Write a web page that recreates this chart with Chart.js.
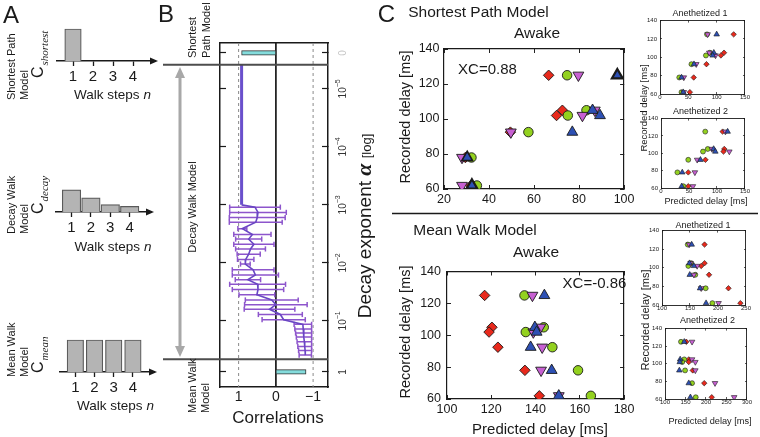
<!DOCTYPE html>
<html>
<head>
<meta charset="utf-8">
<script src="https://cdn.jsdelivr.net/npm/chart.js@4.4.1/dist/chart.umd.min.js"></script>
<style>
html, body { margin: 0; padding: 0; background: #fff; }
#stage { position: relative; width: 760px; height: 437px; overflow: hidden; background: #fff;
         font-family: 'Liberation Sans', Arial, sans-serif; color: #1a1a1a; }
#stage canvas { position: absolute; }
.lbl { position: absolute; white-space: nowrap; line-height: 1; }
.sub { font: italic 11px 'Liberation Serif', serif; vertical-align: -5px; margin-left: 1px; }
#deco { position: absolute; left: 0; top: 0; }
</style>
</head>
<body>
<div id="stage"></div>
<script>
// ---- panel A: step weights of the three walk models
const walkSteps = [1, 2, 3, 4];
const cShortest = [1, 0, 0, 0];
const cDecay = [0.69, 0.44, 0.23, 0.175];
const cMean = [1, 1, 1, 1];

// ---- panel B: correlation vs log10(decay exponent)
const bTickPos = [-5.62, -5, -4, -3, -2, -1, -0.12];
const bTickBase = ['0', '10', '10', '10', '10', '10', '1'];
const bTickExp = ['', '\u22125', '\u22124', '\u22123', '\u22122', '\u22121', ''];
const corrTicks = [1, 0, -1];
const plateauAlpha = [-5.42, -3.0];
const plateauCorr = [0.92, 0.92];
const decayAlpha = [-2.96, -2.87, -2.78, -2.70, -2.59, -2.49, -2.41, -2.32, -2.24, -2.15, -2.06,
  -1.98, -1.88, -1.79, -1.71, -1.63, -1.54, -1.45, -1.36, -1.28, -1.20, -1.11, -1.02,
  -0.94, -0.86, -0.79, -0.72, -0.64, -0.56, -0.49, -0.41];
const decayMean = [0.56, 0.48, 0.50, 0.54, 0.90, 0.63, 0.73, 0.59, 0.68, 0.73, 0.81,
  0.82, 0.61, 0.55, 0.75, 0.49, 0.48, 0.51, 0.11, 0.00, 0.17, -0.12, -0.21,
  -0.725, -0.735, -0.745, -0.755, -0.765, -0.775, -0.785, -0.79];
const decayErr = [0.68, 0.76, 0.75, 0.71, 0.12, 0.50, 0.35, 0.54, 0.40, 0.31, 0.22,
  0.13, 0.56, 0.62, 0.34, 0.75, 0.69, 0.48, 0.71, 0.84, 0.68, 0.59, 0.58,
  0.235, 0.225, 0.215, 0.205, 0.195, 0.185, 0.175, 0.165];
const modelAlpha = [-5.62, -0.12];   // shortest path row (alpha 0) and mean walk row (alpha 1)
const modelCorr = [0.92, -0.81];

// ---- panel C: recorded vs predicted delays (ms), one entry per recorded delay
const recordedDelay = [125, 105, 102, 92.5, 78, 62];
const spAwakeRed = [66.5, 72.6, 70, 49.5, 29.5, 32];
const spAwakeGreen = [74.7, 83.3, 75, 57.5, 32.2, 34.6];
const spAwakePurple = [79.7, 87, 81.5, 49.7, 28, 28];
const spAwakeBlue = [97, 86, 89.3, 77, 30.3, 32.4];
const spAn1Red = [130, 113, 107.5, 82, 59.5, 52.7];
const spAn1Green = [83, 88, 81, 55.5, 34, 38];
const spAn1Purple = [84, 87, 98, 64, 42, 42];
const spAn1Blue = [100, 95, 93, 60, 38, 41];
const spAn2Red = [110, 113, 111.6, 79.4, 48.7, 48.7];
const spAn2Green = [79, 83.5, 75, 48.7, 29.3, 40];
const spAn2Purple = [115, 91, 122, 64.6, 60.5, 57];
const spAn2Blue = [119, 94, 97, 70.5, 38, 37];
const mwAwakeRed = [117, 120.3, 119, 123, 135.2, 141.7];
const mwAwakeGreen = [135, 143.7, 135.6, 147.6, 159.2, 165];
const mwAwakePurple = [138.6, 142.2, 139, 143, 142.5, 150.5];
const mwAwakeBlue = [144, 139.7, 140.5, 137.8, 147.3, 150.5];
const mwAn1Red = [176, 176, 170, 184, 218.7, 240];
const mwAn1Green = [146, 152, 147, 159.5, 178, 190];
const mwAn1Purple = [148.5, 151, 162.7, 157, 170, 201];
const mwAn1Blue = [153, 149, 157, 149.6, 168, 178.7];
const mwAn2Red = [152, 158, 158, 167.7, 195.7, 214];
const mwAn2Green = [139, 147, 142, 149, 166, 175];
const mwAn2Purple = [166, 166, 174, 174, 222, 268.7];
const mwAn2Blue = [147, 137, 136, 135, 158, 162];

Chart.defaults.font.family = "'Liberation Sans', Arial, sans-serif";
Chart.defaults.color = '#1a1a1a';
Chart.defaults.animation = false;
Chart.defaults.events = [];
Chart.defaults.plugins.legend.display = false;
Chart.defaults.plugins.tooltip.enabled = false;

const stage = document.getElementById('stage');
const INK = '#1a1a1a';

// canvas placed so that the chart area lands on `area` [l, t, r, b]; m = margins [l, t, r, b]
function makeCanvas(area, m) {
    const c = document.createElement('canvas');
    const w = Math.round(area[2] - area[0] + m[0] + m[2]);
    const h = Math.round(area[3] - area[1] + m[1] + m[3]);
    c.width = w;
    c.height = h;
    c.style.left = (area[0] - m[0]) + 'px';
    c.style.top = (area[1] - m[1]) + 'px';
    c.style.width = w + 'px';
    c.style.height = h + 'px';
    stage.appendChild(c);
    return c;
}

function label(html, x, y, size, rotate, extra) {
    const d = document.createElement('div');
    d.className = 'lbl';
    d.innerHTML = html;
    d.style.left = x + 'px';
    d.style.top = y + 'px';
    d.style.fontSize = size + 'px';
    d.style.transform = 'translate(-50%, -50%)' + (rotate ? ' rotate(-90deg)' : '');
    if (extra) d.style.cssText += extra;
    stage.appendChild(d);
}

// rotated text that starts at (x, yBottom) and reads upwards
function vlabel(html, x, yBottom, size) {
    const d = document.createElement('div');
    d.className = 'lbl';
    d.innerHTML = html;
    d.style.left = x + 'px';
    d.style.top = yBottom + 'px';
    d.style.fontSize = size + 'px';
    d.style.transformOrigin = '0 0';
    d.style.transform = 'rotate(-90deg)';
    stage.appendChild(d);
}

// ---------- panel A ----------
const axisArrow = {
    id: 'axisArrow',
    afterDraw(chart) {
        const a = chart.chartArea, ctx = chart.ctx;
        ctx.save();
        ctx.fillStyle = INK;
        ctx.beginPath();
        ctx.moveTo(a.right + 3, a.bottom);
        ctx.lineTo(a.right - 5, a.bottom - 3.5);
        ctx.lineTo(a.right - 5, a.bottom + 3.5);
        ctx.closePath();
        ctx.fill();
        ctx.restore();
    }
};

function walkChart(area, values, barWidth) {
    const m = [6, 2, 8, 26];
    new Chart(makeCanvas(area, m), {
        type: 'bar',
        data: {
            datasets: [{
                data: walkSteps.map((s, i) => ({ x: s, y: values[i] })),
                backgroundColor: '#b4b4b4',
                borderColor: '#5a5a5a',
                borderWidth: 1.2,
                barThickness: barWidth
            }]
        },
        options: {
            responsive: false,
            layout: { padding: { left: m[0], top: m[1], right: m[2], bottom: 0 }, autoPadding: false },
            scales: {
                x: {
                    type: 'linear', offset: false, min: 0.2, max: 5.1,
                    afterBuildTicks: s => { s.ticks = walkSteps.map(v => ({ value: v })); },
                    ticks: { font: { size: 15 }, color: INK, padding: 2, autoSkip: false, maxRotation: 0 },
                    grid: { offset: false, drawOnChartArea: false, tickLength: 5, tickColor: INK, tickWidth: 1.3 },
                    border: { color: INK, width: 1.5 },
                    afterFit: s => { s.height = m[3]; }
                },
                y: { display: false, min: 0, max: 1.25 }
            }
        },
        plugins: [axisArrow]
    });
}

walkChart([57, 21, 155, 61], cShortest, 16.5);
walkChart([56, 172, 151, 212], cDecay, 18.5);
walkChart([60, 332, 154, 372], cMean, 16.5);

// ---------- panel B ----------
const bYMin = -5.79, bYMax = 0.14;

const decayLabels = {
    id: 'decayLabels',
    afterDraw(chart) {
        const ctx = chart.ctx, s = chart.scales.y2, x0 = chart.chartArea.right + 15;
        const fam = "'Liberation Sans', Arial, sans-serif";
        bTickPos.forEach((v, i) => {
            const y = s.getPixelForValue(v);
            ctx.save();
            ctx.translate(x0, y);
            ctx.rotate(-Math.PI / 2);
            ctx.textBaseline = 'middle';
            ctx.textAlign = 'left';
            ctx.fillStyle = i === 0 ? '#c6c6c6' : '#333';
            ctx.font = '10px ' + fam;
            const wb = ctx.measureText(bTickBase[i]).width;
            ctx.font = '7px ' + fam;
            const we = bTickExp[i] ? ctx.measureText(bTickExp[i]).width : 0;
            const start = -(wb + we) / 2;
            ctx.font = '10px ' + fam;
            ctx.fillText(bTickBase[i], start, 0);
            if (bTickExp[i]) {
                ctx.font = '7px ' + fam;
                ctx.fillText(bTickExp[i], start + wb, -5);
            }
            ctx.restore();
        });
    }
};

const errPts = [];
decayAlpha.forEach((a, i) => {
    errPts.push({ x: decayMean[i] - decayErr[i], y: a }, { x: decayMean[i] + decayErr[i], y: a }, { x: null, y: null });
});
const dashPts = [];
corrTicks.filter(v => v !== 0).forEach(v => {
    dashPts.push({ x: v, y: bYMin }, { x: v, y: bYMax }, { x: null, y: null });
});

function bAxis(pos, size, extra) {
    return Object.assign({
        position: pos,
        afterFit: s => { if (s.isHorizontal()) s.height = size; else s.width = size; },
        border: { color: INK, width: 1.5 }
    }, extra);
}
const bYAxis = {
    reverse: true, min: bYMin, max: bYMax,
    afterBuildTicks: s => { s.ticks = bTickPos.map(v => ({ value: v })); },
    ticks: { display: false },
    grid: { drawOnChartArea: false, tickLength: -6, tickColor: INK, tickWidth: 1.2 }
};
const bM = [8, 5, 34, 20];
new Chart(makeCanvas([220, 43, 328, 387], bM), {
    type: 'scatter',
    data: {
        datasets: [
            { data: plateauAlpha.map((a, i) => ({ x: plateauCorr[i], y: a })), showLine: true,
              borderColor: '#6a50cc', borderWidth: 3, pointRadius: 0, order: 0 },
            { data: [{ x: plateauCorr[1], y: plateauAlpha[1] }].concat(decayAlpha.map((a, i) => ({ x: decayMean[i], y: a }))),
              showLine: true, borderColor: '#6a46c4', borderWidth: 1.6, pointRadius: 0, order: 0 },
            { data: errPts, showLine: true, spanGaps: false, borderColor: '#8d55cc', borderWidth: 1.5,
              pointStyle: 'line', pointRotation: 90, pointRadius: 2.6,
              pointBorderColor: '#8d55cc', pointBorderWidth: 1.5, order: 1 },
            { type: 'bar', indexAxis: 'y', grouped: false,
              data: modelAlpha.map((a, i) => ({ x: [0, modelCorr[i]], y: a })),
              backgroundColor: '#84dcdc', borderColor: '#333', borderWidth: 1, borderSkipped: false,
              barThickness: 4.5, order: 2 },
            { data: [{ x: 0, y: bYMin }, { x: 0, y: bYMax }], showLine: true,
              borderColor: INK, borderWidth: 1, pointRadius: 0, order: 6 },
            { data: dashPts, showLine: true, spanGaps: false, borderColor: '#8a8a8a', borderWidth: 1,
              borderDash: [3, 3], pointRadius: 0, order: 6 }
        ]
    },
    options: {
        responsive: false,
        layout: { padding: 0, autoPadding: false },
        scales: {
            x: bAxis('bottom', bM[3], {
                type: 'linear', offset: false, reverse: true, min: -1.4, max: 1.5,
                afterBuildTicks: s => { s.ticks = corrTicks.map(v => ({ value: v })); },
                ticks: { font: { size: 14 }, color: INK, padding: 1.3, autoSkip: false, maxRotation: 0,
                         callback: v => v < 0 ? '\u2212' + (-v) : String(v) },
                grid: { display: false, drawTicks: false, tickLength: 0, offset: false }
            }),
            x2: bAxis('top', bM[1], {
                axis: 'x', type: 'linear', reverse: true, min: -1.4, max: 1.5,
                ticks: { display: false }, grid: { display: false, drawTicks: false, tickLength: 0 }
            }),
            y: bAxis('left', bM[0], Object.assign({ type: 'linear', offset: false }, bYAxis, { grid: Object.assign({ offset: false }, bYAxis.grid) })),
            y2: bAxis('right', bM[2], Object.assign({ axis: 'y', type: 'linear' }, bYAxis))
        }
    },
    plugins: [decayLabels]
});

// ---------- panel C ----------
const markerLook = [
    { color: '#e8291c', style: 'rectRot', rot: 0, k: 1.05 },
    { color: '#93d11f', style: 'circle', rot: 0, k: 0.95 },
    { color: '#c760d2', style: 'triangle', rot: 180, k: 1.25 },
    { color: '#2d50b4', style: 'triangle', rot: 0, k: 1.25 }
];

function scatterPanel(area, m, xr, yr, series, o) {
    const axis = (pos, r, show, size, pad) => ({
        axis: (pos === 'top' || pos === 'bottom') ? 'x' : 'y',
        position: pos, min: r[0], max: r[1],
        ticks: { stepSize: r[2], display: show, autoSkip: false, maxRotation: 0,
                 font: { size: o.font }, color: INK, padding: pad || 0 },
        grid: { drawOnChartArea: false, tickLength: -o.tick, tickColor: INK, tickWidth: o.bw * 0.8 },
        border: { color: INK, width: o.bw },
        afterFit: s => { if (s.isHorizontal()) s.height = size; else s.width = size; }
    });
    new Chart(makeCanvas(area, m), {
        type: 'scatter',
        data: {
            datasets: series.map((xs, k) => ({
                data: xs.map((x, i) => ({ x: x, y: recordedDelay[i] })),
                pointStyle: markerLook[k].style,
                pointRotation: markerLook[k].rot,
                pointRadius: o.r * markerLook[k].k,
                pointBackgroundColor: markerLook[k].color,
                pointBorderColor: INK,
                pointBorderWidth: (o.borders && o.borders[k]) || o.pbw,
                order: 3 - k
            }))
        },
        options: {
            responsive: false,
            layout: { padding: 0, autoPadding: false },
            scales: {
                x: axis('bottom', xr, true, m[3], o.padX),
                x2: axis('top', xr, false, m[1]),
                y: axis('left', yr, true, m[0], o.padY),
                y2: axis('right', yr, false, m[2])
            }
        }
    });
}

const mainLook = { font: 12.5, tick: 4, bw: 1.2, r: 5, pbw: 0.9, padX: 7.5, padY: 8.5 };
const insetLook = { font: 6, tick: 2, bw: 0.9, r: 2.6, pbw: 0.6, padX: 2, padY: 5 };
const delayRange = [60, 140, 20];

scatterPanel([444, 43, 630, 189], [36, 10, 12, 22], [20, 100, 20], delayRange,
    [spAwakeRed, spAwakeGreen, spAwakePurple, spAwakeBlue],
    Object.assign({}, mainLook, { borders: [0, 0, 0, [2.2, 0.9, 0.9, 0.9, 1.6, 2.2]] }));
scatterPanel([447, 264, 630, 399], [40, 10, 12, 24], [100, 180, 20], delayRange,
    [mwAwakeRed, mwAwakeGreen, mwAwakePurple, mwAwakeBlue], Object.assign({}, mainLook, { padY: 10 }));
scatterPanel([660, 18, 748, 94], [20, 6, 4, 10], [0, 150, 50], delayRange,
    [spAn1Red, spAn1Green, spAn1Purple, spAn1Blue], insetLook);
scatterPanel([661, 116, 748, 188], [20, 6, 4, 10], [0, 150, 50], delayRange,
    [spAn2Red, spAn2Green, spAn2Purple, spAn2Blue], insetLook);
scatterPanel([662, 228, 749, 305], [20, 6, 4, 10], [100, 250, 50], delayRange,
    [mwAn1Red, mwAn1Green, mwAn1Purple, mwAn1Blue], insetLook);
scatterPanel([665, 326, 750, 399], [20, 6, 4, 10], [100, 300, 50], delayRange,
    [mwAn2Red, mwAn2Green, mwAn2Purple, mwAn2Blue], insetLook);

// ---------- decorations (separators, model arrow) ----------
stage.insertAdjacentHTML('beforeend',
    '<svg id="deco" width="760" height="437">' +
    '<line x1="163" y1="64.7" x2="328" y2="64.7" stroke="#4d4d4d" stroke-width="2"/>' +
    '<line x1="163" y1="359.3" x2="328" y2="359.3" stroke="#4d4d4d" stroke-width="2"/>' +
    '<line x1="180" y1="76" x2="180" y2="348" stroke="#a8a8a8" stroke-width="3"/>' +
    '<polygon points="180,67 175,78 185,78" fill="#a8a8a8"/>' +
    '<polygon points="180,357 175,346 185,346" fill="#a8a8a8"/>' +
    '<line x1="392" y1="213.5" x2="758" y2="213.5" stroke="#1a1a1a" stroke-width="1.5"/>' +
    '</svg>');

// ---------- text ----------
label('A', 11, 15, 24);
label('B', 166, 14, 24);
label('C', 386.5, 14, 24);

vlabel('Shortest Path', 6, 100, 11);
vlabel('Model', 19, 100, 11);
vlabel('Decay Walk', 6, 234, 11);
vlabel('Model', 19, 234, 11);
vlabel('Mean Walk', 6, 377, 11);
vlabel('Model', 19, 377, 11);
vlabel('C<span class="sub">shortest</span>', 30, 78, 16);
vlabel('C<span class="sub">decay</span>', 30, 214, 16);
vlabel('C<span class="sub">mean</span>', 30, 373, 16);
label('Walk steps <i>n</i>', 112.5, 95, 13.5);
label('Walk steps <i>n</i>', 113, 246.7, 13.5);
label('Walk steps <i>n</i>', 115.5, 406, 13.5);

vlabel('Shortest', 186.5, 58, 11);
vlabel('Path Model', 200.5, 58, 11);
label('Decay Walk Model', 192, 207, 11, true);
vlabel('Mean Walk', 186.5, 413, 11);
vlabel('Model', 200, 413, 11);
label('Correlations', 278, 417, 17);
label('Decay exponent <b style="font-family:\'Liberation Serif\',serif;font-style:italic;font-size:22px">\u03b1</b> <span style="font-size:13px">[log]</span>', 364, 226, 19, true);

label('Shortest Path Model', 478.5, 12, 15.5);
label('Awake', 537, 33, 15.5);
label('XC=0.88', 487.5, 68, 15);
label('Recorded delay [ms]', 405, 117, 14.5, true);
label('Anethetized 1', 700, 12.5, 9);
label('Anethetized 2', 700.5, 111, 9);
label('Recorded delay [ms]', 644, 108, 9.5, true);
label('Predicted delay [ms]', 706, 202, 9.2);

label('Mean Walk Model', 475, 230, 15.5);
label('Awake', 536, 252, 15.5);
label('XC=-0.86', 594.5, 282, 15);
label('Recorded delay [ms]', 405, 332, 14.5, true);
label('Predicted delay [ms]', 540, 428, 15);
label('Anethetized 1', 703, 224.5, 9);
label('Anethetized 2', 707.5, 320, 9);
label('Recorded delay [ms]', 645, 320, 11, true);
label('Predicted delay [ms]', 710, 421.5, 9.2);
</script>
</body>
</html>
